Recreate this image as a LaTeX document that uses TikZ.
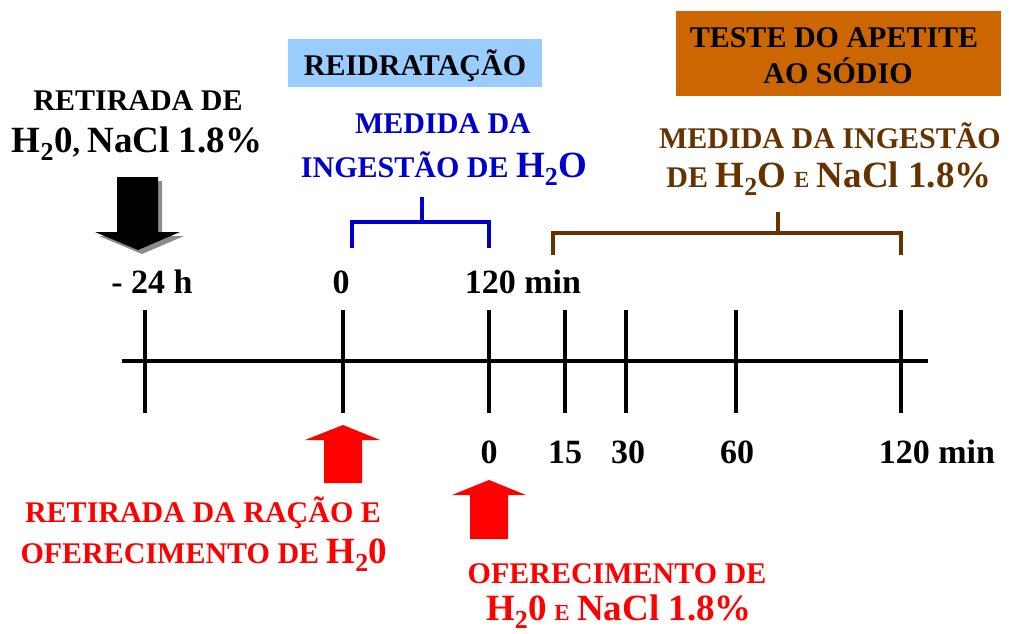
\documentclass[tikz,border=0pt]{standalone}
\usepackage{fontspec}
\setmainfont{Liberation Serif}
\definecolor{reidblue}{HTML}{99CCFF}
\definecolor{apetite}{HTML}{CC6600}
\definecolor{medblue}{HTML}{0000CC}
\definecolor{medbrown}{HTML}{663300}
\newcommand{\capfont}{\fontsize{30}{34}\selectfont}
\newcommand{\bigfont}{\fontsize{37}{40}\selectfont}
\newcommand{\tinyfont}{\fontsize{23}{26}\selectfont}
\newcommand{\numfont}{\fontsize{34}{38}\selectfont}
\newcommand{\agua}[1]{{\bigfont H\textsubscript{2}#1}}

\begin{document}
\begin{tikzpicture}[x=1pt,y=-1pt,
    every node/.style={inner sep=0pt,anchor=base},
    lbl/.style={font=\bfseries\capfont},
    num/.style={font=\bfseries\numfont},
    tick/.style={line width=3.5pt},
    brace/.style={line width=3.5pt}]
  \useasboundingbox (0,0) rectangle (1009,633);

  % boxes
  \fill[reidblue] (288,39) rectangle (542,87);
  \fill[apetite] (676,11) rectangle (1001,96);
  \node[lbl] (reid) at (415,75) {REIDRATAÇÃO};
  \node[lbl] (tes1) at (834,47) {TESTE DO APETITE};
  \node[lbl] (tes2) at (838,83) {AO SÓDIO};

  % timeline
  \draw[line width=4pt] (122,361) -- (928,361);
  \foreach \t in {145,343,489,565,626,736,901}
    \draw[tick] (\t,310) -- (\t,413);

  \node[num] (m24) at (152,293) {- 24 h};
  \node[num] (z1) at (341,293) {0};
  \node[num] (c1) at (523,293) {120 min};
  \node[num] (z2) at (489,463) {0};
  \node[num] (q15) at (565,463) {15};
  \node[num] (q30) at (628,463) {30};
  \node[num] (q60) at (737,463) {60};
  \node[num] (c2) at (937,463) {120 min};

  % retirada
  \node[lbl] (ret1) at (138,110) {RETIRADA DE};
  \node[lbl] (ret2) at (137,152) {\agua{0}, {\bigfont NaCl 1.8\%}};
  \fill[black!45] (121,181) -- (162,181) -- (162,236) -- (184,236) -- (142,254) -- (99,236) -- (121,236) -- cycle;
  \fill[black] (117,177) -- (158,177) -- (158,232) -- (180,232) -- (138,250) -- (95,232) -- (117,232) -- cycle;

  % reidratacao
  \node[lbl,text=medblue] (med1) at (443,133) {MEDIDA DA};
  \node[lbl,text=medblue] (med2) at (444,177) {INGESTÃO DE \agua{O}};
  \draw[brace,medblue] (352,248) -- (352,222) -- (489,222) -- (489,248);
  \draw[brace,medblue] (422,222) -- (422,197);

  % apetite
  \node[lbl,text=medbrown] (ing1) at (830,148) {MEDIDA DA INGESTÃO};
  \node[lbl,text=medbrown] (ing2) at (829,187) {DE \agua{O} {\tinyfont E} {\bigfont NaCl 1.8\%}};
  \draw[brace,medbrown] (553,255) -- (553,233) -- (901,233) -- (901,255);
  \draw[brace,medbrown] (778,233) -- (778,212);

  % setas vermelhas
  \fill[red] (324,483) -- (362,483) -- (362,440) -- (380,440) -- (343,425) -- (305,440) -- (324,440) -- cycle;
  \fill[red] (470,539) -- (508,539) -- (508,495) -- (526,495) -- (489,480) -- (452,495) -- (470,495) -- cycle;
  \node[lbl,text=red] (rac1) at (203,522) {RETIRADA DA RAÇÃO E};
  \node[lbl,text=red] (rac2) at (204,563) {OFERECIMENTO DE \agua{0}};
  \node[lbl,text=red] (ofe1) at (617,583) {OFERECIMENTO DE};
  \node[lbl,text=red] (ofe2) at (619,620) {\agua{0} {\tinyfont E} {\bigfont NaCl 1.8\%}};
\end{tikzpicture}
\end{document}
